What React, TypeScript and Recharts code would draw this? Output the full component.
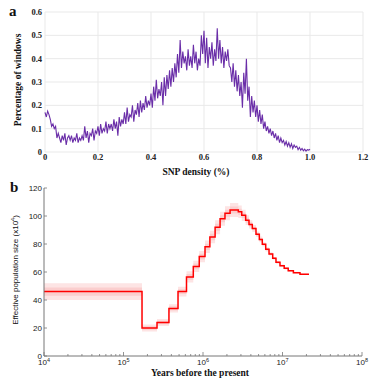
import React from 'react';
import { LineChart, Line, XAxis, YAxis, CartesianGrid, ComposedChart, Area } from 'recharts';

// ---------- Panel a: SNP density distribution ----------
const snpStep = 0.005;
const snpPercent = [
  0.17, 0.15, 0.175, 0.16, 0.14, 0.11, 0.12, 0.10, 0.11, 0.06,
  0.08, 0.06, 0.04, 0.07, 0.05, 0.08, 0.03, 0.06, 0.07, 0.05,
  0.07, 0.04, 0.06, 0.05, 0.08, 0.04, 0.06, 0.05, 0.07, 0.05,
  0.11, 0.06, 0.09, 0.04, 0.08, 0.07, 0.10, 0.05, 0.09, 0.08,
  0.11, 0.07, 0.12, 0.08, 0.10, 0.09, 0.13, 0.08, 0.12, 0.10,
  0.12, 0.09, 0.14, 0.10, 0.13, 0.07, 0.15, 0.11, 0.14, 0.12,
  0.17, 0.12, 0.19, 0.13, 0.16, 0.15, 0.20, 0.13, 0.18, 0.16,
  0.21, 0.15, 0.22, 0.17, 0.21, 0.18, 0.24, 0.19, 0.22, 0.20,
  0.25, 0.19, 0.28, 0.22, 0.31, 0.23, 0.27, 0.24, 0.30, 0.20,
  0.32, 0.24, 0.33, 0.27, 0.35, 0.28, 0.36, 0.30, 0.38, 0.32,
  0.42, 0.34, 0.48, 0.36, 0.43, 0.38, 0.41, 0.35, 0.44, 0.37,
  0.41, 0.36, 0.46, 0.38, 0.43, 0.35, 0.40, 0.37, 0.50, 0.42,
  0.52, 0.38, 0.49, 0.36, 0.45, 0.40, 0.47, 0.37, 0.44, 0.39,
  0.53, 0.40, 0.48, 0.38, 0.45, 0.36, 0.43, 0.39, 0.44, 0.37,
  0.36, 0.30, 0.38, 0.28, 0.35, 0.26, 0.33, 0.24, 0.30, 0.19,
  0.34, 0.25, 0.40, 0.22, 0.28, 0.15, 0.24, 0.17, 0.22, 0.15,
  0.20, 0.13, 0.18, 0.12, 0.16, 0.10, 0.13, 0.09, 0.11, 0.08,
  0.10, 0.07, 0.09, 0.06, 0.08, 0.05, 0.07, 0.04, 0.06, 0.04,
  0.05, 0.03, 0.045, 0.025, 0.04, 0.02, 0.035, 0.015, 0.03, 0.02,
  0.025, 0.01, 0.02, 0.008, 0.015, 0.005, 0.012, 0.004, 0.01, 0.008,
  0.012,
];
const aXTicks = [0, 0.2, 0.4, 0.6, 0.8, 1.0, 1.2];
const aXTickLabels = ['0', '0.2', '0.4', '0.6', '0.8', '1.0', '1.2'];
const aYTicks = [0, 0.1, 0.2, 0.3, 0.4, 0.5, 0.6];
const aYTickLabels = ['0', '0.1', '0.2', '0.3', '0.4', '0.5', '0.6'];

// ---------- Panel b: PSMC effective population size ----------
const bYears = [
  1e4, 1.71e5, 2.64e5, 3.73e5, 4.85e5, 6.2e5, 7.55e5, 8.97e5, 1.06e6, 1.22e6,
  1.42e6, 1.64e6, 1.89e6, 2.19e6, 2.78e6, 3.07e6, 3.44e6, 3.79e6, 4.17e6, 4.64e6,
  5.11e6, 5.57e6, 6.15e6, 6.77e6, 7.53e6, 8.28e6, 9.3e6, 1.05e7, 1.18e7, 1.37e7,
  1.66e7, 2.11e7,
];
const bNe = [
  46, 20, 24, 34, 46, 56.5, 64, 71, 78, 85,
  92, 98, 102, 104.3, 103, 100.5, 97, 94, 91, 87,
  83.3, 79.8, 76.2, 72.9, 69.8, 66.9, 64.5, 62.6, 60.9, 59.5,
  58.4, 57.9,
];
const bSpread = [
  6, 2.5, 2.5, 3, 3.5, 4, 4, 4, 4.5, 4.5,
  5, 5, 5, 5, 4.5, 4, 3.5, 3, 2.5, 2,
  2, 1.5, 1.5, 1.2, 1, 1, 0.8, 0.8, 0.6, 0.6,
  0.5, 0.5,
];
const bYTicks = [0, 20, 40, 60, 80, 100, 120];
const bXExponents = [4, 5, 6, 7, 8];

const snpData = snpPercent.map((v, i) => ({ x: +(i * snpStep).toFixed(3), y: v }));
const psmcData = bYears.map((t, i) => ({
  t,
  ne: bNe[i],
  outer: [bNe[i] - bSpread[i], bNe[i] + bSpread[i]],
  inner: [bNe[i] - bSpread[i] * 0.5, bNe[i] + bSpread[i] * 0.5],
}));

const bXTicks: number[] = [];
for (let k = 0; k < bXExponents.length; k++) {
  const base = Math.pow(10, bXExponents[k]);
  bXTicks.push(base);
  if (k < bXExponents.length - 1) for (let m = 2; m <= 9; m++) bXTicks.push(m * base);
}

const SERIF = 'Liberation Serif, Times New Roman, serif';
const SANS = 'Liberation Sans, Arial, sans-serif';
const BOX = '#777';

const isMajor = (v: number) => Math.abs(Math.log10(v) - Math.round(Math.log10(v))) < 1e-6;

const BottomTick = (props: any) => {
  const { x, y, payload } = props;
  const v = payload.value;
  const major = isMajor(v);
  const exp = Math.round(Math.log10(v));
  return (
    <g>
      <line x1={x} x2={x} y1={y} y2={y - (major ? 4 : 2)} stroke={BOX} strokeWidth={0.8} />
      {major && (
        <text x={x} y={y + 9} textAnchor="middle" fontSize={8} fontFamily={SANS} fill="#222">
          10<tspan dy={-3.5} fontSize={5.5}>{exp}</tspan>
        </text>
      )}
    </g>
  );
};

const TopTick = (props: any) => {
  const { x, y, payload } = props;
  const major = isMajor(payload.value);
  return <line x1={x} x2={x} y1={y} y2={y + (major ? 4 : 2)} stroke={BOX} strokeWidth={0.8} />;
};

const LeftTick = (props: any) => {
  const { x, y, payload } = props;
  return (
    <g>
      <line x1={x} x2={x + 3} y1={y} y2={y} stroke={BOX} strokeWidth={0.8} />
      <text x={x - 2} y={y + 3} textAnchor="end" fontSize={8} fontFamily={SANS} fill="#222">
        {payload.value}
      </text>
    </g>
  );
};

const RightTick = (props: any) => {
  const { x, y } = props;
  return <line x1={x} x2={x - 3} y1={y} y2={y} stroke={BOX} strokeWidth={0.8} />;
};

export default function App() {
  return (
    <div style={{ position: 'absolute', left: 0, top: 0, width: 376, height: 380, background: '#fff' }}>
      <div style={{ position: 'absolute', left: 0, top: 0 }}>
        <LineChart width={376} height={180} data={snpData} margin={{ top: 12, right: 13, bottom: 0, left: 0 }}>
          <CartesianGrid stroke="#e9e9e9" strokeWidth={1} />
          <XAxis
            dataKey="x"
            type="number"
            domain={[0, 1.2]}
            ticks={aXTicks}
            tickFormatter={(v: number) => aXTickLabels[aXTicks.indexOf(v)] ?? String(v)}
            axisLine={false}
            tickLine={false}
            tickSize={0}
            tickMargin={2}
            height={28}
            interval={0}
            tick={{ fontSize: 8.5, fontFamily: SERIF, fontWeight: 'bold', fill: '#222' }}
          />
          <YAxis
            type="number"
            domain={[0, 0.6]}
            ticks={aYTicks}
            tickFormatter={(v: number) => aYTickLabels[aYTicks.indexOf(v)] ?? String(v)}
            axisLine={false}
            tickLine={false}
            tickSize={0}
            tickMargin={3}
            width={45}
            interval={0}
            tick={{ fontSize: 8.5, fontFamily: SERIF, fontWeight: 'bold', fill: '#222' }}
          />
          <Line
            type="linear"
            dataKey="y"
            stroke="#6a2ea8"
            strokeWidth={1.1}
            dot={false}
            activeDot={false}
            isAnimationActive={false}
          />
        </LineChart>
      </div>
      <div style={{ position: 'absolute', left: 0, top: 180 }}>
        <ComposedChart width={376} height={200} data={psmcData} margin={{ top: 8, right: 14, bottom: 0, left: 0 }}>
          <XAxis
            dataKey="t"
            type="number"
            scale="log"
            domain={[1e4, 1e8]}
            allowDataOverflow
            ticks={bXTicks}
            interval={0}
            height={24}
            tickSize={0}
            tickMargin={0}
            tickLine={false}
            axisLine={{ stroke: BOX, strokeWidth: 1 }}
            tick={<BottomTick />}
          />
          <XAxis
            xAxisId="top"
            orientation="top"
            dataKey="t"
            type="number"
            scale="log"
            domain={[1e4, 1e8]}
            allowDataOverflow
            ticks={bXTicks}
            interval={0}
            height={0}
            tickSize={0}
            tickMargin={0}
            tickLine={false}
            axisLine={{ stroke: BOX, strokeWidth: 1 }}
            tick={<TopTick />}
          />
          <YAxis
            type="number"
            domain={[0, 120]}
            ticks={bYTicks}
            interval={0}
            width={44}
            tickSize={0}
            tickMargin={0}
            tickLine={false}
            axisLine={{ stroke: BOX, strokeWidth: 1 }}
            tick={<LeftTick />}
          />
          <YAxis
            yAxisId="right"
            orientation="right"
            type="number"
            domain={[0, 120]}
            ticks={bYTicks}
            interval={0}
            width={0}
            tickSize={0}
            tickMargin={0}
            tickLine={false}
            axisLine={{ stroke: BOX, strokeWidth: 1 }}
            tick={<RightTick />}
          />
          <Area
            type="stepAfter"
            dataKey="outer"
            stroke="none"
            fill="#fde4e4"
            fillOpacity={1}
            isAnimationActive={false}
            activeDot={false}
          />
          <Area
            type="stepAfter"
            dataKey="inner"
            stroke="none"
            fill="#fac8c8"
            fillOpacity={0.8}
            isAnimationActive={false}
            activeDot={false}
          />
          <Line
            type="stepAfter"
            dataKey="ne"
            stroke="#ff0000"
            strokeWidth={1.5}
            dot={false}
            activeDot={false}
            isAnimationActive={false}
          />
          <Line
            xAxisId="top"
            yAxisId="right"
            type="stepAfter"
            dataKey="ne"
            stroke="none"
            dot={false}
            activeDot={false}
            isAnimationActive={false}
          />
        </ComposedChart>
      </div>
      <svg
        width={376}
        height={380}
        style={{ position: 'absolute', left: 0, top: 0, pointerEvents: 'none' }}
      >
        <text x={9} y={16} fontSize={15} fontWeight="bold" fontFamily={SERIF} fill="#111">a</text>
        <text
          transform="translate(21,80) rotate(-90)"
          textAnchor="middle"
          fontSize={9.5}
          fontWeight="bold"
          fontFamily={SERIF}
          fill="#111"
        >
          Percentage of windows
        </text>
        <text x={196} y={175} textAnchor="middle" fontSize={9.5} fontWeight="bold" fontFamily={SERIF} fill="#111">
          SNP density (%)
        </text>
        <text x={10} y={192} fontSize={15} fontWeight="bold" fontFamily={SERIF} fill="#111">b</text>
        <text
          transform="translate(18,270) rotate(-90)"
          textAnchor="middle"
          fontSize={8}
          fontFamily={SANS}
          fill="#111"
        >
          Effective population size (x10<tspan dy={-3} fontSize={5.5}>4</tspan><tspan dy={3}>)</tspan>
        </text>
        <text x={200} y={376} textAnchor="middle" fontSize={9.5} fontWeight="bold" fontFamily={SERIF} fill="#111">
          Years before the present
        </text>
      </svg>
    </div>
  );
}
